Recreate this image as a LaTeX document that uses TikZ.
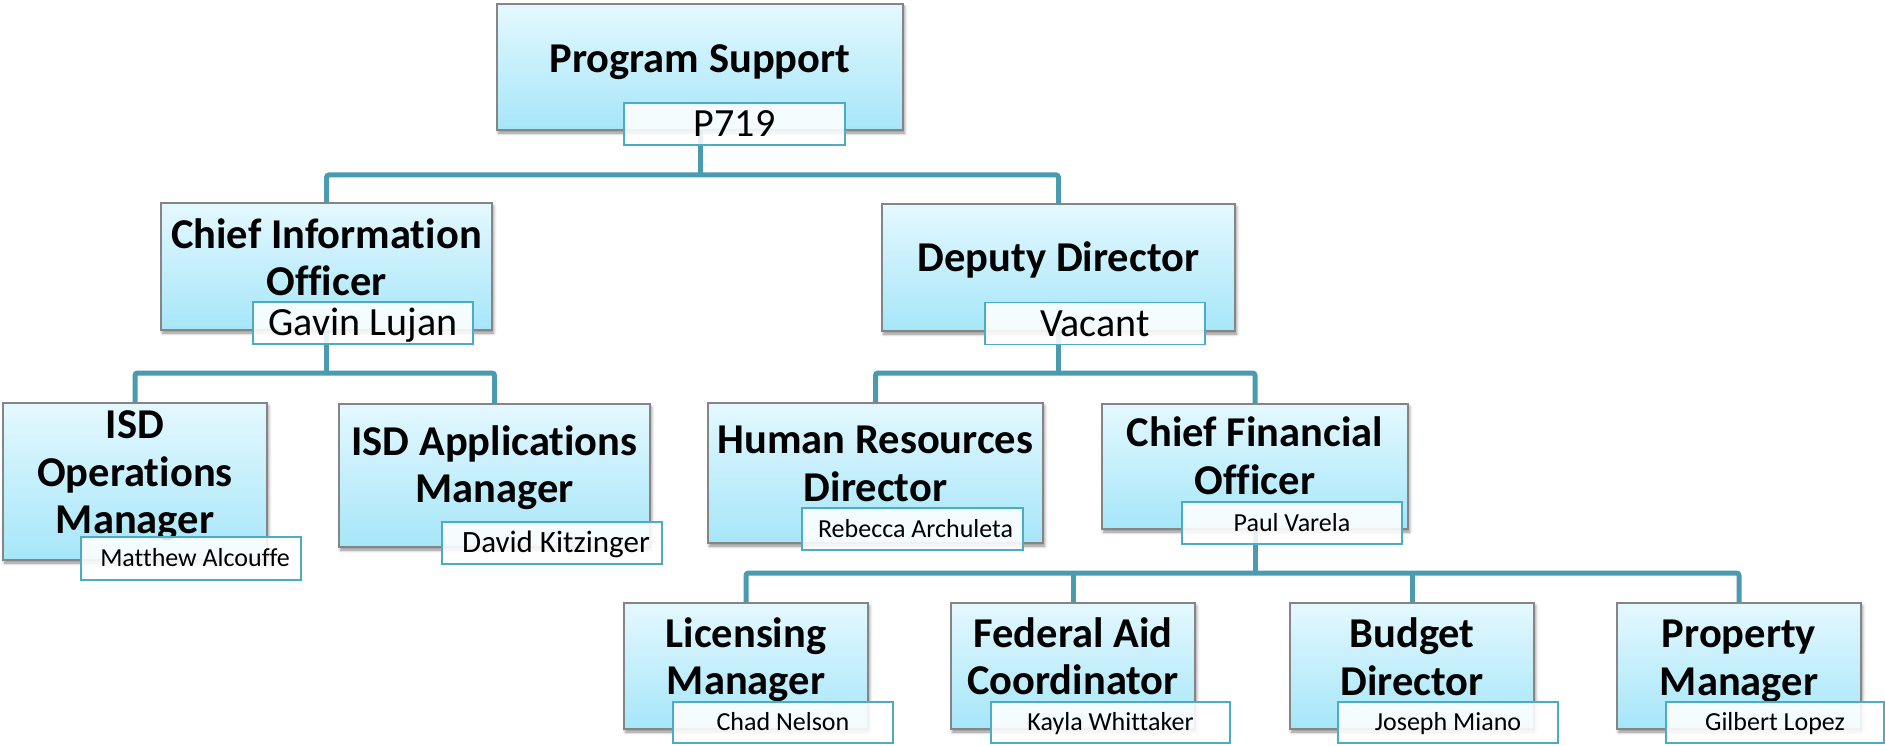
\documentclass[tikz,border=0pt]{standalone}
\usepackage{fontspec}
\setmainfont{Carlito}[RawFeature=-liga]
\usetikzlibrary{shadows.blur}

\definecolor{linkteal}{HTML}{4A9AB0}
\definecolor{tagteal}{HTML}{4BACC6}
\definecolor{boxtop}{HTML}{E4F8FE}
\definecolor{boxbot}{HTML}{A6E6F9}
\definecolor{boxedge}{HTML}{858585}

\pgfdeclarelayer{links}
\pgfsetlayers{links,main}

\tikzset{
  rolebox/.style={draw=boxedge, line width=1.3pt, top color=boxtop, bottom color=boxbot,
    inner sep=0pt, blur shadow={shadow xshift=1.5pt, shadow yshift=-3pt,
    shadow blur radius=3pt, shadow opacity=45}},
  title/.style={align=center, inner sep=0pt, font=\fontsize{42.5}{47.5}\selectfont\bfseries},
  tag/.style={draw=tagteal, line width=1.8pt, fill=white, fill opacity=0.88, text opacity=1,
    inner sep=0pt, minimum width=220pt, minimum height=42pt},
  bigtag/.style={tag, font=\fontsize{40}{48}\selectfont, text height=25.3pt, text depth=0pt},
  smalltag/.style={tag, font=\fontsize{26}{31}\selectfont, text height=16.4pt, text depth=0pt},
  link/.style={draw=linkteal, line width=5pt, rounded corners=2.5pt},
}

\begin{document}
\begin{tikzpicture}[x=1pt, y=-1pt]
\useasboundingbox (0,0) rectangle (1885,746);

% level 1
\node[rolebox, minimum width=406pt, minimum height=126pt] (ps) at (700,67) {};
\node[title] (ps-t) at (700,62.6) {\strut Program Support};
\node[bigtag, minimum width=221pt] (ps-n) at (734.5,124) {P719};

% level 2
\node[rolebox, minimum width=331pt, minimum height=127pt] (cio) at (326.5,266.5) {};
\node[title] (cio-t) at (326.5,262.6) {\strut Chief Information\\\strut Officer};
\node[bigtag] (cio-n) at (363,323) {Gavin Lujan};

\node[rolebox, minimum width=353pt, minimum height=127pt] (dd) at (1058.5,267.5) {};
\node[title] (dd-t) at (1058.5,261.6) {\strut Deputy Director};
\node[bigtag] (dd-n) at (1095,323.5) {Vacant};

% level 3
\node[rolebox, minimum width=264pt, minimum height=157pt] (ops) at (135,481.5) {};
\node[title] (ops-t) at (135,476.6) {\strut ISD\\\strut Operations\\\strut Manager};
\node[smalltag, minimum height=43pt] (ops-n) at (191,558.5) {\hspace{8pt}Matthew Alcouffe};

\node[rolebox, minimum width=311pt, minimum height=143pt] (app) at (494.5,475.5) {};
\node[title] (app-t) at (494.5,469.6) {\strut ISD Applications\\\strut Manager};
\node[smalltag, font=\fontsize{31}{37}\selectfont, text height=19.6pt] (app-n) at (552,543) {\hspace{8pt}David Kitzinger};

\node[rolebox, minimum width=335pt, minimum height=140pt] (hr) at (875.5,473) {};
\node[title] (hr-t) at (875.5,468) {\strut Human Resources\\\strut Director};
\node[smalltag, minimum width=221pt] (hr-n) at (912.5,529) {\hspace{6pt}Rebecca Archuleta};

\node[rolebox, minimum width=306pt, minimum height=125pt] (cfo) at (1255,466.5) {};
\node[title] (cfo-t) at (1255,461) {\strut Chief Financial\\\strut Officer};
\node[smalltag] (cfo-n) at (1292,523) {Paul Varela};

% level 4
\node[rolebox, minimum width=244pt, minimum height=126pt] (lic) at (746,666) {};
\node[title] (lic-t) at (746,661.6) {\strut Licensing\\\strut Manager};
\node[smalltag, minimum height=41pt] (lic-n) at (783,722.5) {Chad Nelson};

\node[rolebox, minimum width=244pt, minimum height=126pt] (fed) at (1073,666) {};
\node[title] (fed-t) at (1073,661.6) {\strut Federal Aid\\\strut Coordinator};
\node[smalltag, minimum width=239pt, minimum height=41pt] (fed-n) at (1110.5,722.5) {Kayla Whittaker};

\node[rolebox, minimum width=244pt, minimum height=126pt] (bud) at (1412,666) {};
\node[title] (bud-t) at (1412,662) {\strut Budget\\\strut Director};
\node[smalltag, minimum height=41pt] (bud-n) at (1448,722.5) {Joseph Miano};

\node[rolebox, minimum width=244pt, minimum height=126pt] (prop) at (1739,666) {};
\node[title] (prop-t) at (1739,662) {\strut Property\\\strut Manager};
\node[smalltag, minimum width=218pt, minimum height=41pt] (prop-n) at (1775,722.5) {Gilbert Lopez};

% connector rails
\coordinate (rail1) at (0,175);
\coordinate (rail2) at (0,373);
\coordinate (rail3) at (0,573);

\begin{pgfonlayer}{links}
  \draw[link] (ps.center) -- (ps.center |- rail1);
  \draw[link] (cio.north) |- (dd.north |- rail1) -- (dd.north);

  \draw[link] (cio.center) -- (cio.center |- rail2);
  \draw[link] (ops.north) |- (app.north |- rail2) -- (app.north);

  \draw[link] (dd.center) -- (dd.center |- rail2);
  \draw[link] (hr.north) |- (cfo.north |- rail2) -- (cfo.north);

  \draw[link] (cfo.center) -- (cfo.center |- rail3);
  \draw[link] (lic.north) |- (prop.north |- rail3) -- (prop.north);
  \draw[link] (fed.north |- rail3) -- (fed.north);
  \draw[link] (bud.north |- rail3) -- (bud.north);
\end{pgfonlayer}
\end{tikzpicture}
\end{document}
